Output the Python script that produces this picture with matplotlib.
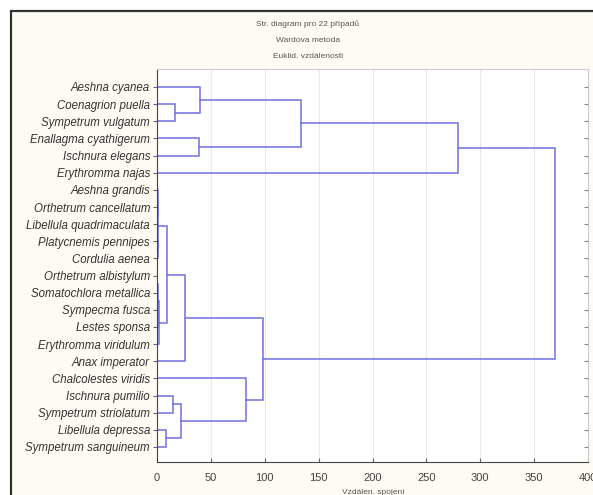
import matplotlib.pyplot as plt
from matplotlib.patches import Rectangle

species = [
    "Aeshna cyanea", "Coenagrion puella", "Sympetrum vulgatum",
    "Enallagma cyathigerum", "Ischnura elegans", "Erythromma najas",
    "Aeshna grandis", "Orthetrum cancellatum", "Libellula quadrimaculata",
    "Platycnemis pennipes", "Cordulia aenea", "Orthetrum albistylum",
    "Somatochlora metallica", "Sympecma fusca", "Lestes sponsa",
    "Erythromma viridulum", "Anax imperator", "Chalcolestes viridis",
    "Ischnura pumilio", "Sympetrum striolatum", "Libellula depressa",
    "Sympetrum sanguineum",
]

# merge k creates node id len(species)+k
merge_left = [11, 13, 22, 24, 7, 6, 9, 27, 29, 30, 18, 20, 32, 17, 31, 1, 0, 3, 38, 40, 41]
merge_right = [12, 14, 23, 15, 8, 26, 10, 28, 25, 16, 19, 21, 33, 34, 35, 2, 37, 4, 39, 5, 36]
merge_height = [0.4, 0.5, 1.0, 1.5, 0.3, 0.8, 0.5, 1.2, 9.3, 26, 15, 8.5, 22, 82.5, 98.5,
                17, 40, 39, 134, 279, 369]

xticks = [0, 50, 100, 150, 200, 250, 300, 350, 400]

W, H = 593, 495
fig = plt.figure(figsize=(W / 100, H / 100), dpi=100)
fig.patch.set_facecolor("white")
fig.patches.append(Rectangle((11 / W, -0.1), 1.2, (H - 11) / H + 0.1, transform=fig.transFigure,
                             facecolor="#fdfbf3", edgecolor="#333333", lw=1.6, zorder=-5))

ax = fig.add_axes([157 / W, (H - 462) / H, (588 - 157) / W, (462 - 69) / H])
ax.set_zorder(2)
ax.set_facecolor("white")

n = len(species)
pos = {i: float(i) for i in range(n)}
hgt = {i: 0.0 for i in range(n)}
line_color = "#7070e0"
for k, (a, b, h) in enumerate(zip(merge_left, merge_right, merge_height)):
    ax.plot([hgt[a], h, h, hgt[b]], [pos[a], pos[a], pos[b], pos[b]],
            color=line_color, lw=1.1, solid_joinstyle="miter")
    pos[n + k] = (pos[a] + pos[b]) / 2
    hgt[n + k] = h

ax.set_xlim(0, 400)
ax.set_ylim(21.875, -1.05)
ax.set_xticks(xticks)
ax.set_xticklabels([str(v) for v in xticks], fontsize=8, color="#444444", family="Liberation Sans")
ax.set_yticks(range(n))
ax.set_yticklabels(species, fontsize=8.3, style="italic", color="#333333", family="Liberation Sans")
ax.grid(axis="x", color="#e8e8e8", lw=0.8)
ax.set_axisbelow(True)
ax.tick_params(axis="y", length=3, color="#666666", direction="out", pad=2)
ax.tick_params(axis="x", length=3, color="#666666", direction="in", pad=8)
for side in ["left", "bottom"]:
    ax.spines[side].set_color("#444444")
for side in ["top", "right"]:
    ax.spines[side].set_color("#cccccc")

# small inward ticks on the right spine
ax_r = ax.twinx()
ax_r.set_ylim(ax.get_ylim())
ax_r.set_yticks(range(n))
ax_r.set_yticklabels([])
ax_r.tick_params(axis="y", length=3, color="#888888", direction="in")
for side in ax_r.spines.values():
    side.set_visible(False)

title_x = 308 / W
for txt, yp in [("Str. diagram pro 22 případů", 24), ("Wardova metoda", 40), ("Euklid. vzdálenosti", 56)]:
    fig.text(title_x, 1 - yp / H, txt, ha="center", va="center", fontsize=6, color="#555555",
             family="Liberation Sans")
fig.text(373 / W, 1 - 492 / H, "Vzdálen. spojení", ha="center", va="center", fontsize=6,
         color="#555555", family="Liberation Sans")

fig.savefig("out.png", dpi=100)
